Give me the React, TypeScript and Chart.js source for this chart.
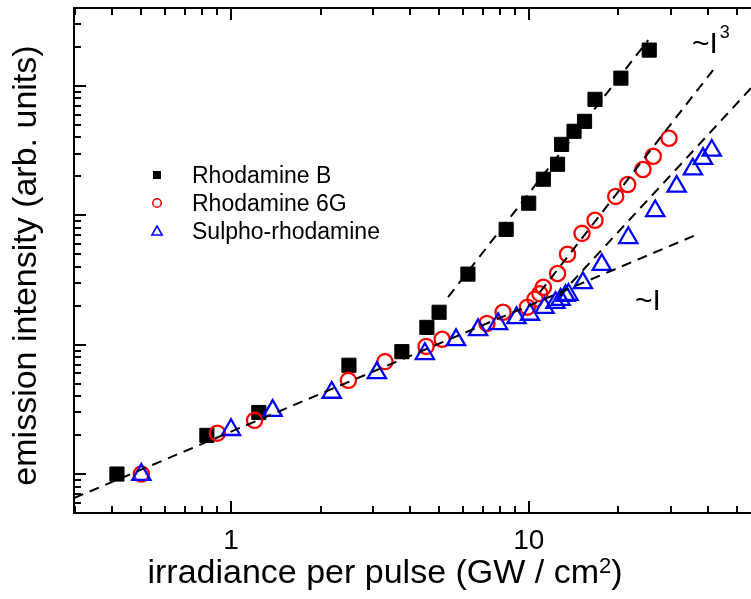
import React, { useEffect, useRef } from "react";
import { Chart, registerables } from "chart.js";

Chart.register(...registerables);

// irradiance per pulse (GW / cm^2) and emission intensity (arb. units)
const rhodamineB_x = [0.414, 0.83, 1.24, 2.49, 3.75, 4.55, 5.0, 6.25, 8.4, 10.0, 11.2, 12.5, 12.9, 14.2, 15.4, 16.7, 20.4, 25.4];
const rhodamineB_y = [1.0, 1.99, 2.99, 6.93, 8.83, 13.6, 17.8, 35.1, 77.8, 124, 190, 248, 353, 446, 532, 787, 1148, 1891];

const rhodamine6G_x = [0.5, 0.9, 1.2, 2.48, 3.29, 4.52, 5.12, 7.24, 8.2, 9.9, 10.5, 10.9, 11.2, 12.5, 13.5, 15.1, 16.7, 19.6, 21.5, 24.2, 26.2, 29.6];
const rhodamine6G_y = [1.0, 2.07, 2.6, 5.3, 7.4, 9.7, 11.0, 14.6, 17.8, 19.5, 22.5, 24.8, 27.8, 35.5, 50, 72.5, 91.6, 140, 173, 226, 286, 394];

const sulpho_x = [0.5, 1.0, 1.38, 2.18, 3.09, 4.48, 5.7, 6.76, 7.89, 9.1, 10.1, 11.3, 12.3, 12.8, 13.3, 13.6, 15.2, 17.6, 21.6, 26.6, 31.4, 35.6, 38.5, 41.2];
const sulpho_y = [0.99, 2.2, 3.09, 4.27, 6.05, 8.5, 10.9, 13.0, 14.5, 16.1, 17.1, 19.3, 21.1, 22.3, 23.9, 24.4, 30, 41.5, 67, 108, 167, 227, 274, 317];

// dashed guide lines (~I and ~I^3)
const linearFit_x = [0.297, 36.2];
const linearFit_y = [0.652, 70];
const cubicB_x = [5.36, 25.2];
const cubicB_y = [23.3, 2260];
const cubic6G_x = [10.9, 41.6];
const cubic6G_y = [25.4, 1325];
const cubicSR_x = [12.7, 55.8];
const cubicSR_y = [24, 960];

const seriesNames = ["Rhodamine B", "Rhodamine 6G", "Sulpho-rhodamine"];

const xMajorTicks = [1, 10];
const xTickLabels = ["1", "10"];
const xMinorTicks = [0.3, 0.4, 0.5, 0.6, 0.7, 0.8, 0.9, 2, 3, 4, 5, 6, 7, 8, 9, 20, 30, 40, 50];
const yMajorTicks = [1, 10, 100, 1000];
const yMinorTicks = [0.5, 0.6, 0.7, 0.8, 0.9, 2, 3, 4, 5, 6, 7, 8, 9, 20, 30, 40, 50, 60, 70, 80, 90, 200, 300, 400, 500, 600, 700, 800, 900, 2000, 3000, 4000];

const xTitle = "irradiance per pulse (GW / cm";
const xTitleSup = "2";
const yTitle = "emission intensity (arb. units)";

const FONT = '"Liberation Sans", Arial, sans-serif';

const pts = (xs: number[], ys: number[]) => xs.map((x, i) => ({ x, y: ys[i] }));

const framePlugin = {
  id: "frameTicks",
  beforeDatasetsDraw(chart: any) {
    const { ctx, chartArea } = chart;
    const { left, top, right, bottom } = chartArea;
    const xs = chart.scales.x;
    const ys = chart.scales.y;
    ctx.save();
    ctx.strokeStyle = "#000";
    ctx.lineWidth = 2;
    ctx.beginPath();
    ctx.moveTo(right + 2, top);
    ctx.lineTo(left, top);
    ctx.lineTo(left, bottom);
    ctx.lineTo(right + 2, bottom);
    ctx.stroke();
    ctx.lineWidth = 2;
    ctx.beginPath();
    const xt = (v: number, len: number) => {
      const p = Math.round(xs.getPixelForValue(v));
      ctx.moveTo(p, bottom);
      ctx.lineTo(p, bottom - len);
      ctx.moveTo(p, top);
      ctx.lineTo(p, top + len);
    };
    xMajorTicks.forEach((v) => xt(v, 12));
    xMinorTicks.forEach((v) => xt(v, 7));
    const yt = (v: number, len: number) => {
      const p = Math.round(ys.getPixelForValue(v));
      ctx.moveTo(left, p);
      ctx.lineTo(left + len, p);
    };
    yMajorTicks.forEach((v) => yt(v, 12));
    yMinorTicks.forEach((v) => yt(v, 7));
    ctx.stroke();
    ctx.restore();
  },
  afterDraw(chart: any) {
    const { ctx, chartArea } = chart;
    const xs = chart.scales.x;
    ctx.save();
    ctx.fillStyle = "#000";
    // tick labels
    ctx.font = `28px ${FONT}`;
    ctx.textAlign = "center";
    ctx.textBaseline = "alphabetic";
    xMajorTicks.forEach((v, i) => {
      ctx.fillText(xTickLabels[i], xs.getPixelForValue(v), 549);
    });
    // x title
    ctx.font = `34px ${FONT}`;
    ctx.textAlign = "left";
    const mainW = ctx.measureText(xTitle).width;
    ctx.font = `22px ${FONT}`;
    const supW = ctx.measureText(xTitleSup).width;
    ctx.font = `34px ${FONT}`;
    const closeW = ctx.measureText(")").width;
    const total = mainW + supW + closeW;
    let x0 = 385 - total / 2;
    ctx.fillText(xTitle, x0, 583);
    ctx.font = `22px ${FONT}`;
    ctx.fillText(xTitleSup, x0 + mainW, 573);
    ctx.font = `34px ${FONT}`;
    ctx.fillText(")", x0 + mainW + supW, 583);
    // y title
    ctx.save();
    ctx.translate(36, (chartArea.top + chartArea.bottom) / 2 + 5);
    ctx.rotate(-Math.PI / 2);
    ctx.textAlign = "center";
    ctx.font = `34px ${FONT}`;
    ctx.fillText(yTitle, 0, 0);
    ctx.restore();
    // annotations
    ctx.textAlign = "left";
    ctx.font = `30px ${FONT}`;
    ctx.fillText("~I", 692, 53);
    const wI = ctx.measureText("~I").width;
    ctx.font = `18px ${FONT}`;
    ctx.fillText("3", 692 + wI + 2, 38);
    ctx.font = `30px ${FONT}`;
    ctx.fillText("~I", 635, 310);
    // legend
    const lx = 157;
    const rows = [175, 203, 231];
    const bases = [183, 211, 239];
    ctx.fillStyle = "#000";
    ctx.fillRect(lx - 4, rows[0] - 4, 8, 8);
    ctx.strokeStyle = "#ff0000";
    ctx.lineWidth = 1.5;
    ctx.beginPath();
    ctx.arc(lx, rows[1], 4.3, 0, Math.PI * 2);
    ctx.stroke();
    ctx.strokeStyle = "#0000ff";
    ctx.beginPath();
    ctx.moveTo(lx, rows[2] - 5);
    ctx.lineTo(lx + 5.2, rows[2] + 4);
    ctx.lineTo(lx - 5.2, rows[2] + 4);
    ctx.closePath();
    ctx.stroke();
    ctx.fillStyle = "#000";
    ctx.font = `23px ${FONT}`;
    seriesNames.forEach((n, i) => ctx.fillText(n, 192, bases[i]));
    ctx.restore();
  },
};

export default function App() {
  const ref = useRef<HTMLCanvasElement>(null);
  useEffect(() => {
    if (!ref.current) return;
    const dash = {
      showLine: true,
      pointRadius: 0,
      borderColor: "#000",
      borderWidth: 2,
      borderDash: [10, 7],
      fill: false,
      order: 0,
    };
    const chart = new Chart(ref.current, {
      type: "scatter",
      data: {
        datasets: [
          { ...dash, label: "~I", data: pts(linearFit_x, linearFit_y) },
          { ...dash, label: "~I3 B", data: pts(cubicB_x, cubicB_y) },
          { ...dash, label: "~I3 6G", data: pts(cubic6G_x, cubic6G_y) },
          { ...dash, label: "~I3 SR", data: pts(cubicSR_x, cubicSR_y) },
          {
            label: seriesNames[2],
            data: pts(sulpho_x, sulpho_y),
            pointStyle: "triangle",
            pointRadius: 10.5,
            borderColor: "#0000ff",
            backgroundColor: "rgba(0,0,0,0)",
            borderWidth: 2.3,
            showLine: false,
            order: 1,
          },
          {
            label: seriesNames[1],
            data: pts(rhodamine6G_x, rhodamine6G_y),
            pointStyle: "circle",
            pointRadius: 7.6,
            borderColor: "#ff0000",
            backgroundColor: "rgba(0,0,0,0)",
            borderWidth: 2.3,
            showLine: false,
            order: 2,
          },
          {
            label: seriesNames[0],
            data: pts(rhodamineB_x, rhodamineB_y),
            pointStyle: "rect",
            pointRadius: 10,
            borderColor: "#000",
            backgroundColor: "#000",
            borderWidth: 1,
            showLine: false,
            order: 3,
          },
        ],
      },
      options: {
        animation: false,
        responsive: false,
        maintainAspectRatio: false,
        devicePixelRatio: 1,
        layout: { autoPadding: false, padding: { left: 74, top: 8, right: 0, bottom: 86 } },
        plugins: { legend: { display: false }, tooltip: { enabled: false } },
        events: [],
        scales: {
          x: { type: "logarithmic", min: 0.297, max: 55.8, display: false },
          y: { type: "logarithmic", min: 0.5, max: 4000, display: false },
        },
      },
      plugins: [framePlugin],
    });
    return () => chart.destroy();
  }, []);
  return (
    <div style={{ position: "absolute", left: 0, top: 0, width: 751, height: 599, background: "#fff" }}>
      <canvas ref={ref} width={751} height={599} style={{ width: 751, height: 599 }} />
    </div>
  );
}
